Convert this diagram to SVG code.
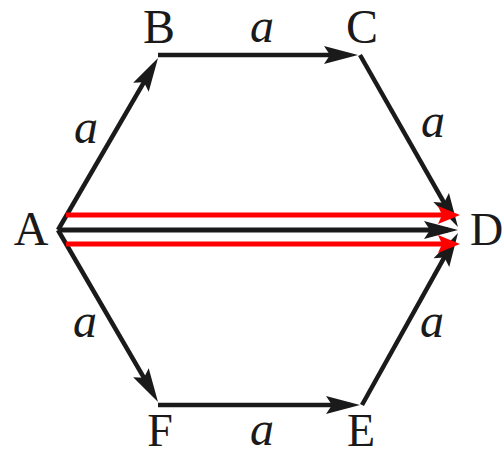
<svg xmlns="http://www.w3.org/2000/svg" width="504" height="456" viewBox="0 0 504 456">
<style>
.e{stroke:#1a1a1a;stroke-width:4.5;fill:none;marker-end:url(#ah)}
.r{stroke:#ff0000;stroke-width:5;fill:none;marker-end:url(#rh)}
.lbl{font-family:"Liberation Serif","Times New Roman",serif;font-size:48px;fill:#1a1a1a;text-anchor:middle}
.it{font-style:italic}
.sm{font-size:46px}
</style>
<defs>
<marker id="ah" markerUnits="userSpaceOnUse" markerWidth="42" markerHeight="22" viewBox="-2 -11 42 22" refX="24" refY="0" orient="auto">
<path d="M34,0 L0,-9 L6,0 L0,9 Z" fill="#1a1a1a"/>
</marker>
<marker id="rh" markerUnits="userSpaceOnUse" markerWidth="30" markerHeight="22" viewBox="-2 -11 30 22" refX="12" refY="0" orient="auto">
<path d="M22,0 L0,-9 L4,0 L0,9 Z" fill="#ff0000"/>
</marker>
</defs>
<g id="connectors">
<line class="e" x1="58" y1="230" x2="153" y2="66.6"/>
<line class="e" x1="158" y1="55" x2="348" y2="55"/>
<line class="e" x1="360" y1="55" x2="453" y2="218.3"/>
<line class="e" x1="58" y1="230" x2="153" y2="393.4"/>
<line class="e" x1="158" y1="405" x2="350" y2="405"/>
<line class="e" x1="362" y1="405" x2="453.1" y2="241.7"/>
<line class="e" x1="60" y1="230" x2="448" y2="230" style="stroke-width:5"/>
<line class="r" x1="66" y1="215" x2="450" y2="215"/>
<line class="r" x1="66" y1="244" x2="450" y2="244"/>
</g>
<g id="edge-labels">
<text class="lbl it" x="86" y="143">a</text>
<text class="lbl it" x="262" y="42">a</text>
<text class="lbl it" x="433" y="137">a</text>
<text class="lbl it" x="85" y="337">a</text>
<text class="lbl it" x="262" y="445">a</text>
<text class="lbl it" x="432" y="337">a</text>
</g>
<g id="node-A"><text class="lbl" x="31" y="245">A</text></g>
<g id="node-B"><text class="lbl" x="159" y="43">B</text></g>
<g id="node-C"><text class="lbl" x="362" y="43">C</text></g>
<g id="node-D"><text class="lbl sm" x="470" y="245" style="text-anchor:start">D</text></g>
<g id="node-E"><text class="lbl sm" x="361" y="446">E</text></g>
<g id="node-F"><text class="lbl sm" x="160" y="446">F</text></g>
</svg>
